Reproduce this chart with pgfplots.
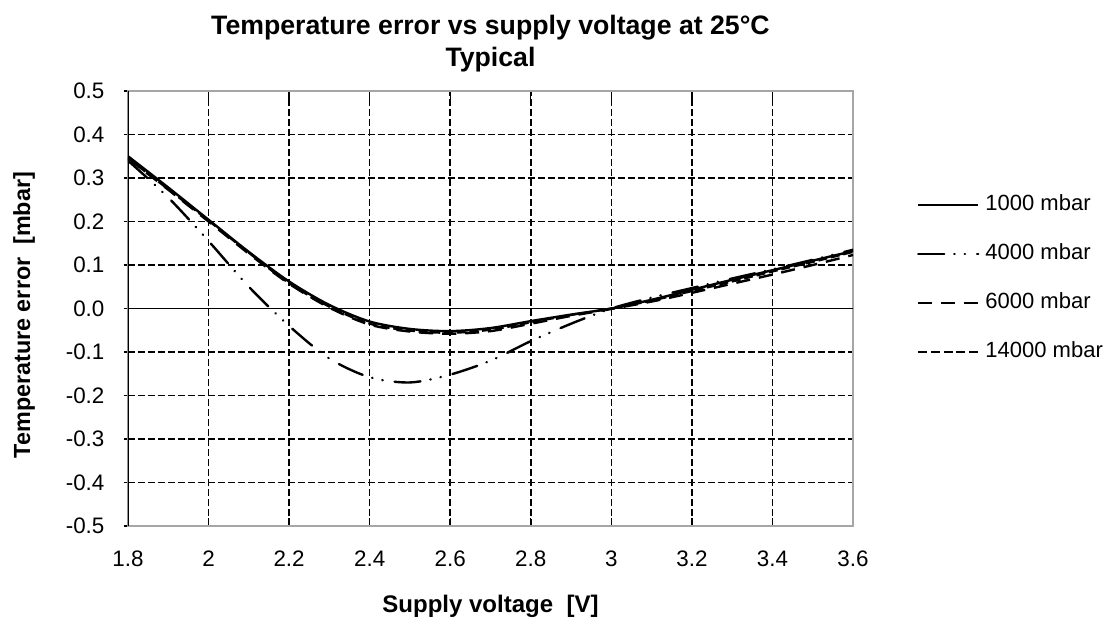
\documentclass[border=0pt]{standalone}
\usepackage{fontspec}
\setmainfont{Liberation Sans}
\usepackage{pgfplots}
\pgfplotsset{compat=1.18}
\begin{document}
\begin{tikzpicture}
\begin{axis}[
  scale only axis,
  width=543.75pt, height=326.25pt,
  xmin=1.8, xmax=3.6, ymin=-0.5, ymax=0.5,
  xtick={1.8,2,2.2,2.4,2.6,2.8,3,3.2,3.4,3.6},
  ytick={-0.5,-0.4,-0.3,-0.2,-0.1,0,0.1,0.2,0.3,0.4,0.5},
  /pgf/number format/assume math mode=true,
  tick label style={font=\fontsize{16.8}{18}\selectfont},
  yticklabel style={/pgf/number format/.cd, fixed, fixed zerofill, precision=1, /tikz/.cd, anchor=east, inner sep=0pt, xshift=-14.5pt},
  xticklabel style={anchor=base, inner sep=0pt, yshift=-30pt},
  xtick align=inside, xtick pos=both,
  ytick align=center, ytick pos=left,
  major tick length=6pt,
  tick style={black, line width=1pt},
  axis line style={gray!70, line width=1pt},
  grid=major,
  major grid style={black, line width=1.1pt, dash pattern=on 5pt off 2.5pt},
  extra y ticks={0}, extra y tick labels={},
  extra y tick style={grid=major, major grid style={black, solid, line width=1.2pt}, tick style={draw=none}},
  title={Temperature error vs supply voltage at 25°C\\Typical},
  title style={font=\bfseries\fontsize{20}{24}\selectfont, align=center, at={(axis description cs:0.5,1)}, anchor=south, inner sep=0pt, yshift=8pt},
  xlabel={Supply voltage\ \ [V]},
  xlabel style={font=\bfseries\fontsize{18}{21}\selectfont, at={(axis description cs:0.5,0)}, anchor=base, inner sep=0pt, yshift=-64.5pt},
  ylabel={Temperature error\ \ [mbar]},
  ylabel style={font=\bfseries\fontsize{17.5}{20}\selectfont, at={(axis description cs:-0.1434,0.485)}, anchor=center, inner sep=0pt},
  legend style={at={(axis description cs:1.088,0.569)}, anchor=west, draw=none, fill=none, inner sep=0pt,
    font=\fontsize{16.5}{18}\selectfont,
    nodes={inner sep=0pt, text height=12pt, text depth=3pt},
    row sep=21.75pt,
    /tikz/every odd column/.append style={column sep=4.5pt}},
  legend cell align=left,
  legend image code/.code={\draw[#1] (0pt,0pt) -- (45pt,0pt);},
]
\addplot[black, line width=1.8pt, smooth, tension=0.5] coordinates {
(1.8,0.350) (1.9,0.278) (2.0,0.204) (2.1,0.130) (2.2,0.062) (2.3,0.008) (2.4,-0.030) (2.5,-0.047) (2.6,-0.052) (2.7,-0.045) (2.8,-0.029) (2.9,-0.014) (3.0,0.000) (3.1,0.020) (3.2,0.043) (3.3,0.066) (3.4,0.088) (3.5,0.110) (3.6,0.132)};
\addlegendentry{1000 mbar}
\addplot[black, line width=1.8pt, smooth, tension=0.5, line cap=round, dash pattern=on 19.5pt off 7.5pt on 0.3pt off 7.5pt on 0.3pt off 9pt] coordinates {
(1.8,0.340) (1.9,0.255) (2.0,0.155) (2.1,0.050) (2.2,-0.040) (2.3,-0.115) (2.4,-0.158) (2.5,-0.170) (2.6,-0.152) (2.7,-0.120) (2.8,-0.075) (2.9,-0.035) (3.0,0.000) (3.1,0.025) (3.2,0.047) (3.3,0.069) (3.4,0.090) (3.5,0.112) (3.6,0.135)};
\addlegendentry{4000 mbar}
\addplot[black, line width=1.8pt, smooth, tension=0.5, dash pattern=on 10.5pt off 6.75pt] coordinates {
(1.8,0.345) (1.9,0.273) (2.0,0.200) (2.1,0.126) (2.2,0.057) (2.3,0.002) (2.4,-0.037) (2.5,-0.053) (2.6,-0.058) (2.7,-0.052) (2.8,-0.035) (2.9,-0.017) (3.0,-0.001) (3.1,0.016) (3.2,0.036) (3.3,0.057) (3.4,0.078) (3.5,0.100) (3.6,0.123)};
\addlegendentry{6000 mbar}
\addplot[black, line width=1.6pt, smooth, tension=0.5, dash pattern=on 6.75pt off 2.8pt] coordinates {
(1.8,0.345) (1.9,0.274) (2.0,0.202) (2.1,0.128) (2.2,0.058) (2.3,0.004) (2.4,-0.035) (2.5,-0.051) (2.6,-0.056) (2.7,-0.049) (2.8,-0.032) (2.9,-0.015) (3.0,0.000) (3.1,0.018) (3.2,0.040) (3.3,0.062) (3.4,0.085) (3.5,0.107) (3.6,0.130)};
\addlegendentry{14000 mbar}
\draw[black, line width=1.2pt] (rel axis cs:0,0) -- (rel axis cs:0,1);
\end{axis}
\pgfresetboundingbox
\path ([shift={(-96pt,-74.25pt)}]current axis.south west) rectangle ([shift={(192.75pt,68.25pt)}]current axis.north east);
\end{tikzpicture}
\end{document}
